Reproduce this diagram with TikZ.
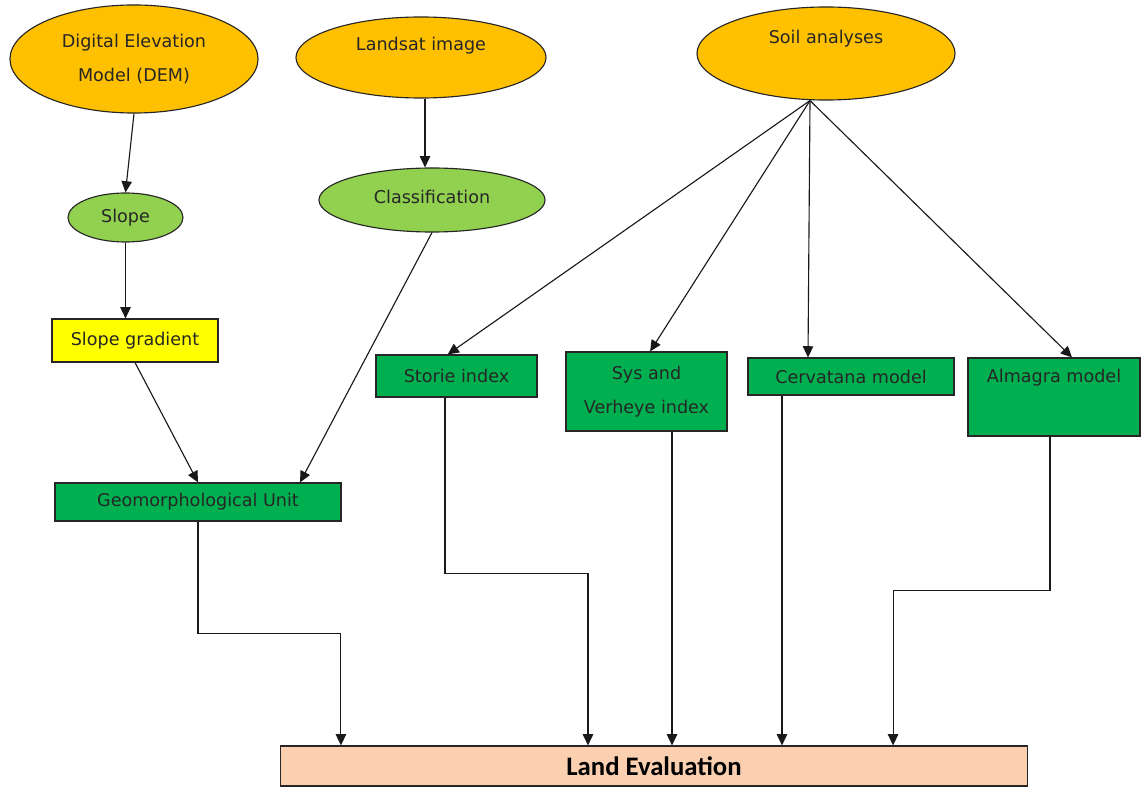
\documentclass[tikz,border=0pt]{standalone}
\usepackage{fontspec}
\setmainfont{DejaVu Sans}
\newfontfamily\landfont{Carlito}
\usetikzlibrary{arrows.meta}
\usetikzlibrary{shapes.geometric}
\usetikzlibrary{positioning}
\definecolor{srcorange}{HTML}{FFC000}
\definecolor{lightgreen}{HTML}{92D050}
\definecolor{boxgreen}{HTML}{00B050}
\definecolor{gradyellow}{HTML}{FFFF00}
\definecolor{landpeach}{HTML}{FAD0B1}
\tikzset {
  flow node/.style = {
    draw = black!85,
    line width = 0.8pt,
    inner sep = 0,
    text = black!85,
    font = \fontsize{12.5pt}{24pt}\selectfont,
    align = center
  },
  % input data
  source/.style = {
    flow node,
    ellipse,
    fill = srcorange
  },
  % derived layer
  layer/.style = {
    flow node,
    ellipse,
    fill = lightgreen
  },
  % result boxes
  unit/.style = {
    flow node,
    rectangle,
    fill = boxgreen
  },
  grad/.style = {
    flow node,
    rectangle,
    fill = gradyellow
  },
  final/.style = {
    flow node,
    rectangle,
    fill = landpeach,
    text = black,
    font = \landfont\bfseries\fontsize{19pt}{22pt}\selectfont
  },
  % text placed off the node centre
  lbl/.style = {
    inner sep = 0,
    text = black!85,
    font = \fontsize{12.5pt}{24pt}\selectfont,
    align = center
  }
}
\tikzset {
  arr/.style = {
    draw = black!90,
    line width = 0.8pt,
    -{Triangle[length=2.8mm,width=2.6mm]}
  },
  narr/.style = {
    draw = black!90,
    line width = 0.8pt
  }
}

\begin{document}
\begin{tikzpicture}[x=0.025cm, y=-0.025cm]
    \useasboundingbox (0,0) rectangle (1142,787);

    \node[source, minimum width=6.2cm, minimum height=2.7cm] (dem) at (134,59)
      {Digital Elevation\\Model (DEM)};
    \node[source, minimum width=6.25cm, minimum height=2.025cm,
      label={[lbl, yshift=0.29cm]center:Landsat image}] (landsat) at (421,57.5) {};
    \node[source, minimum width=6.45cm, minimum height=2.325cm,
      label={[lbl, yshift=0.36cm]center:Soil analyses}] (soil) at (826,53.5) {};

    \node[layer, minimum width=2.875cm, minimum height=1.225cm] (slope) at (125.5,217.5) {Slope};
    \node[layer, minimum width=5.65cm, minimum height=1.6cm,
      label={[lbl, yshift=0.075cm]center:Classification}] (class) at (432,200) {};

    \node[grad, minimum width=4.15cm, minimum height=1.075cm] (gradient) at (135,340.5) {Slope gradient};
    \node[unit, minimum width=7.15cm, minimum height=0.95cm] (geo) at (198,502) {Geomorphological Unit};

    \node[unit, minimum width=4.025cm, minimum height=1.05cm] (storie) at (456.5,376) {Storie index};
    \node[unit, minimum width=4.025cm, minimum height=1.975cm] (sys) at (646.5,391.5) {Sys and\\Verheye index};
    \node[unit, minimum width=5.15cm, minimum height=0.925cm] (cerv) at (851,376.5) {Cervatana model};
    \node[unit, minimum width=4.3cm, minimum height=1.95cm,
      label={[lbl, yshift=0.475cm]center:Almagra model}] (almagra) at (1054,397) {};

    \node[final, minimum width=18.65cm, minimum height=1cm] (land) at (654,766) {Land Evaluation};

    \coordinate (soil-out) at ([xshift=-0.4cm]soil.south);

    \draw[arr] (dem.south) -- (slope.north);
    \draw[arr] (slope.south) -- (slope.south |- gradient.north);
    \draw[arr] ([xshift=0.1cm]landsat.south) -- ([xshift=0.1cm]landsat.south |- class.north);
    \draw[arr] (gradient.south) -- (geo.north);
    \draw[arr] (class.south) -- ([xshift=2.55cm]geo.north);

    \draw[arr] (soil-out) -- ([xshift=-0.22cm]storie.north);
    \draw[arr] (soil-out) -- ([xshift=0.09cm]sys.north);
    \draw[arr] (soil-out) -- ([xshift=-1.075cm]cerv.north);
    \draw[arr] (soil-out) -- ([xshift=0.45cm]almagra.north);

    \draw[arr] (geo.south)
      -- ++(0,112)
      -| ([xshift=-7.825cm]land.north);
    \draw[arr] ([xshift=-0.2875cm]storie.south)
      -- ++(0,176)
      -| ([xshift=-1.65cm]land.north);
    \draw[arr] ([xshift=0.6375cm]sys.south)
      -- ([xshift=0.6375cm]sys.south |- land.north);
    \draw[arr] ([xshift=-1.725cm]cerv.south)
      -- ([xshift=-1.725cm]cerv.south |- land.north);
    \draw[arr] ([xshift=-0.1cm]almagra.south)
      -- ++(0,154)
      -| ([xshift=5.975cm]land.north);
\end{tikzpicture}
\end{document}
